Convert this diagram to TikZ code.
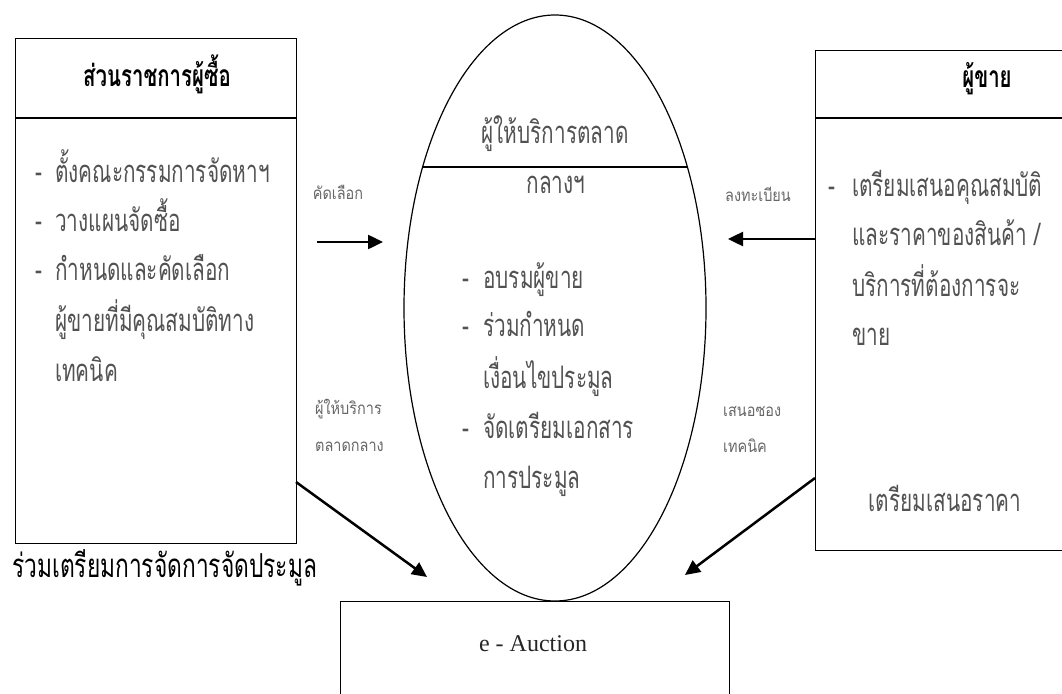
\documentclass[tikz,border=0pt]{standalone}
\usepackage{fontspec}
\setmainfont{Liberation Serif}
\newfontfamily\thaibody[Script=Thai,FakeStretch=0.67]{Loma}
\newfontfamily\thaihead[Script=Thai,FakeStretch=0.68]{Loma}
\newfontfamily\thailab[Script=Thai,FakeStretch=0.85]{Loma}
\newfontfamily\thaibig[Script=Thai,FakeStretch=0.69]{Loma}
\usetikzlibrary{shapes.geometric,arrows.meta}
\begin{document}
\begin{tikzpicture}[x=1pt,y=-1pt,
  box/.style={draw, line width=1.2pt, inner sep=0pt},
  sep/.style={line width=1.2pt},
  body/.style={anchor=base west, inner sep=0pt, font=\thaibody\fontsize{31}{31}\selectfont, text=black!68},
  bodyc/.style={body, anchor=base},
  head/.style={anchor=base, inner sep=0pt, font=\thaihead\bfseries\fontsize{30}{30}\selectfont, text=black},
  lab/.style={anchor=base west, inner sep=0pt, font=\thailab\fontsize{17}{17}\selectfont, text=black!60},
  labc/.style={lab, anchor=base},
  arr/.style={line width=2.5pt, -{Triangle[length=15pt,width=14pt]}}
]
\clip (0,0) rectangle (1062,693);
% boxes
\node[box, anchor=north west, minimum width=281pt, minimum height=505pt] (lbox) at (15,38) {};
\node[box, anchor=north west, minimum width=300pt, minimum height=500pt] (rbox) at (815,50) {};
\node[box, anchor=north west, minimum width=389pt, minimum height=120pt] (abox) at (340,601) {};
\node[draw, line width=1.2pt, ellipse, minimum width=302pt, minimum height=586pt, inner sep=0pt] (ell) at (555,308) {};
% separators
\coordinate (ls) at (15,118);
\coordinate (rs) at (815,118);
\coordinate (es1) at (423,167);
\coordinate (es2) at (687,167);
\draw[sep] (ls) -- (ls -| lbox.east);
\draw[sep] (rs) -- (rs -| rbox.east);
\draw[sep] (es1) -- (es2);
% left box
\node[head] (lh) at (157,86) {ส่วนราชการผู้ซื้อ};
\node[body] (ld1) at (35,182) {-};
\node[body] (l1) at (55,182) {ตั้งคณะกรรมการจัดหาฯ};
\node[body] (ld2) at (35,231) {-};
\node[body] (l2) at (55,231) {วางแผนจัดซื้อ};
\node[body] (ld3) at (35,280) {-};
\node[body] (l3) at (55,280) {กำหนดและคัดเลือก};
\node[body] (l4) at (55,331) {ผู้ขายที่มีคุณสมบัติทาง};
\node[body] (l5) at (55,381) {เทคนิค};
% ellipse
\node[bodyc] (eh1) at (555,143) {ผู้ให้บริการตลาด};
\node[bodyc] (eh2) at (556,193) {กลางฯ};
\node[body] (ed1) at (462,288) {-};
\node[body] (e1) at (483,288) {อบรมผู้ขาย};
\node[body] (ed2) at (462,336) {-};
\node[body] (e2) at (483,336) {ร่วมกำหนด};
\node[body] (e3) at (483,388) {เงื่อนไขประมูล};
\node[body] (ed4) at (462,438) {-};
\node[body] (e4) at (483,438) {จัดเตรียมเอกสาร};
\node[body] (e5) at (483,488) {การประมูล};
% right box
\node[head] (rh) at (987,88) {ผู้ขาย};
\node[body] (rd1) at (828,196) {-};
\node[body] (r1) at (852,196) {เตรียมเสนอคุณสมบัติ};
\node[body] (r2) at (852,245) {และราคาของสินค้า /};
\node[body] (r3) at (852,296) {บริการที่ต้องการจะ};
\node[body] (r4) at (852,345) {ขาย};
\node[bodyc] (r5) at (945,511) {เตรียมเสนอราคา};
% labels
\node[labc] (t1) at (338,199) {คัดเลือก};
\node[labc] (t2) at (758,201) {ลงทะเบียน};
\node[lab] (t3) at (315,414) {ผู้ให้บริการ};
\node[lab] (t4) at (315,451) {ตลาดกลาง};
\node[lab] (t5) at (723,416) {เสนอซอง};
\node[lab] (t6) at (723,452) {เทคนิค};
\node[anchor=base west, inner sep=0pt, font=\thaibig\fontsize{33}{33}\selectfont] (bt) at (12,577) {ร่วมเตรียมการจัดการจัดประมูล};
\node[anchor=base, inner sep=0pt, font=\fontsize{24}{24}\selectfont, text=black!85] (ea) at (533,651) {e - Auction};
% arrows
\coordinate (a1s) at (317,242);
\coordinate (a1e) at (383,242);
\coordinate (a2e) at (728,239);
\coordinate (a3s) at (296,482);
\coordinate (a3e) at (427,577);
\coordinate (a4s) at (815,478);
\coordinate (a4e) at (685,575);
\draw[arr] (a1s) -- (a1e);
\draw[arr] (a2e -| rbox.west) -- (a2e);
\draw[arr] (a3s) -- (a3e);
\draw[arr] (a4s) -- (a4e);
\end{tikzpicture}
\end{document}
